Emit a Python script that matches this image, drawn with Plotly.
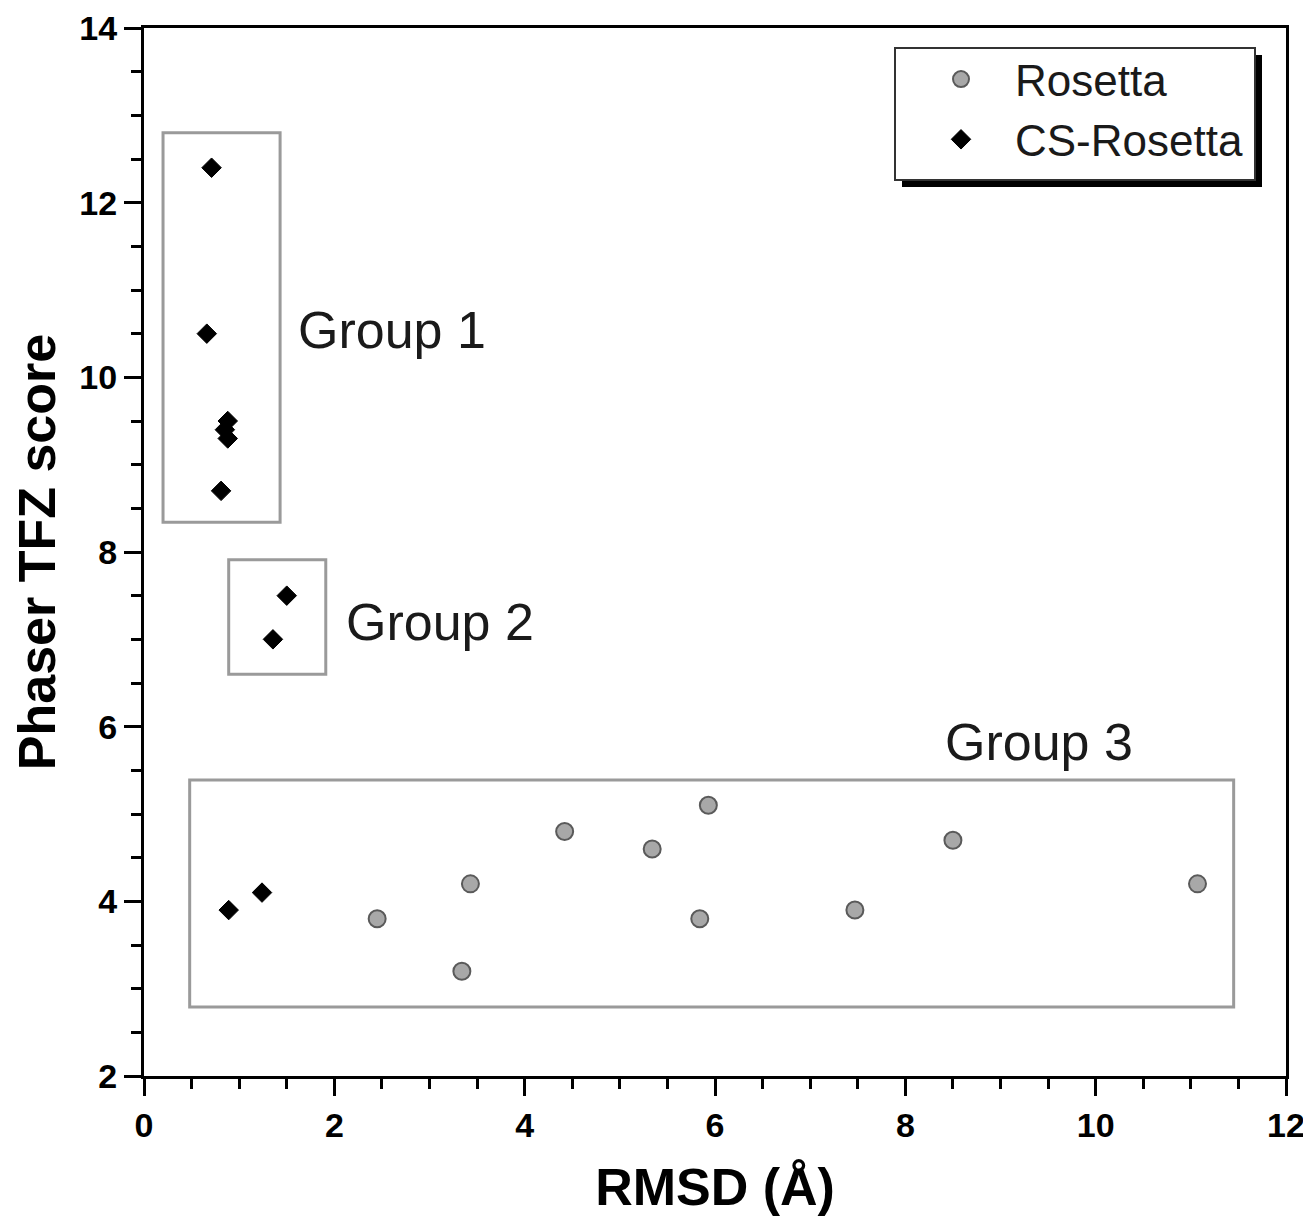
import plotly.graph_objects as go

# Data
rosetta_rmsd = [2.45, 3.43, 3.34, 4.42, 5.34, 5.93, 5.84, 7.47, 8.50, 11.07]
rosetta_tfz = [3.8, 4.2, 3.2, 4.8, 4.6, 5.1, 3.8, 3.9, 4.7, 4.2]

cs_rmsd = [0.71, 0.66, 0.88, 0.85, 0.88, 0.81, 1.50, 1.355, 0.89, 1.24]
cs_tfz = [12.4, 10.5, 9.5, 9.4, 9.3, 8.7, 7.5, 7.0, 3.9, 4.1]

group_labels = ["Group 1", "Group 2", "Group 3"]
group_label_x = [1.6, 2.1, 8.4]
group_label_y = [10.54, 7.2, 5.82]
group_boxes = [  # x0, x1, y0, y1
    (0.2, 1.43, 8.34, 12.8),
    (0.89, 1.91, 6.6, 7.91),
    (0.48, 11.45, 2.79, 5.39),
]

FONT = "Liberation Sans, Arial, Helvetica, sans-serif"

fig = go.Figure()
fig.add_trace(go.Scatter(
    x=rosetta_rmsd, y=rosetta_tfz, mode="markers", name="Rosetta",
    marker=dict(symbol="circle", size=17, color="#a8a8a8",
                line=dict(color="#5a5a5a", width=2)),
))
fig.add_trace(go.Scatter(
    x=cs_rmsd, y=cs_tfz, mode="markers", name="CS-Rosetta",
    marker=dict(symbol="diamond", size=15, color="black",
                line=dict(color="black", width=1)),
))

shapes = []
for (x0, x1, y0, y1) in group_boxes:
    shapes.append(dict(type="rect", xref="x", yref="y", x0=x0, x1=x1, y0=y0, y1=y1,
                       line=dict(color="#9a9a9a", width=3), fillcolor="rgba(0,0,0,0)",
                       layer="below"))

# page pixel geometry (body margin of 8px)
OFF = 8
FW, FH = 1303, 1208
L, R, T, B = 144, 1286, 28, 1076
W, H = R - L, B - T
def px(xp):
    return (xp - L) / W
def py(yp):
    return (B - yp) / H
shapes.append(dict(type="rect", xref="paper", yref="paper",
                   x0=px(902), x1=px(1262), y0=py(187), y1=py(55),
                   line=dict(width=0), fillcolor="black", layer="above"))
shapes.append(dict(type="rect", xref="paper", yref="paper",
                   x0=px(895), x1=px(1255), y0=py(180), y1=py(48),
                   line=dict(width=2, color="#333333"), fillcolor="white", layer="above"))

annotations = []
for t, x, y in zip(group_labels, group_label_x, group_label_y):
    annotations.append(dict(text=t, x=x, y=y, xref="x", yref="y", xanchor="left",
                            yanchor="middle", showarrow=False,
                            font=dict(family=FONT, size=52, color="#1a1a1a")))

axis_common = dict(
    automargin=False,
    showline=True, linecolor="black", linewidth=3, mirror=True,
    ticks="outside", ticklen=17, tickwidth=3, tickcolor="black",
    showgrid=False, zeroline=False,
    tickfont=dict(family=FONT, size=34, color="black", weight="bold"),
    minor=dict(dtick=0.5, ticks="outside", ticklen=10, tickwidth=2.5, tickcolor="black"),
)

fig.update_layout(
    width=FW, height=FH,
    margin=dict(l=L - OFF, r=FW + OFF - R, t=T - OFF, b=FH + OFF - B),
    plot_bgcolor="white", paper_bgcolor="white",
    showlegend=True,
    legend=dict(x=px(907), y=py(44), xanchor="left", yanchor="top",
                bgcolor="rgba(0,0,0,0)", borderwidth=0,
                font=dict(family=FONT, size=44, color="#1a1a1a"),
                itemwidth=98),
    shapes=shapes,
    annotations=annotations,
    xaxis=dict(range=[0, 12], dtick=2, tick0=0,
               title=dict(text="RMSD (Å)", standoff=28,
                          font=dict(family=FONT, size=52, color="black", weight="bold")),
               **axis_common),
    yaxis=dict(range=[2, 14], dtick=2, tick0=2,
               title=dict(text="Phaser TFZ score", standoff=22,
                          font=dict(family=FONT, size=52, color="black", weight="bold")),
               **axis_common),
)

fig.write_html("out.html")
